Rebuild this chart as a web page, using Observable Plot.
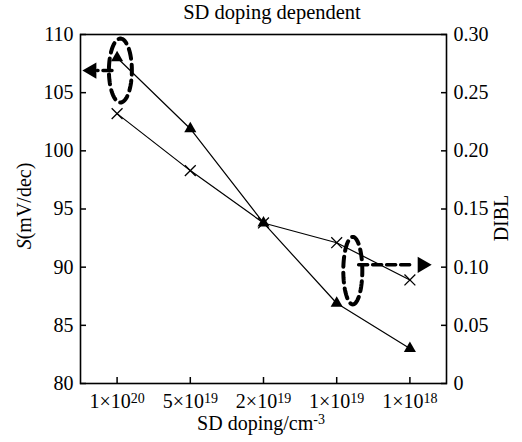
<!DOCTYPE html>
<html>
<head>
<meta charset="utf-8">
<script src="https://cdn.jsdelivr.net/npm/d3@7"></script>
<script src="https://cdn.jsdelivr.net/npm/@observablehq/plot@0.6"></script>
<style>
  body { margin: 0; background: #fff; }
  #chart svg { display: block; }
</style>
</head>
<body>
<div id="chart"></div>
<script>
// Source/drain doping levels (categories, left to right)
const dopings = ["1×10^20", "5×10^19", "2×10^19", "1×10^19", "1×10^18"];
// Subthreshold swing S (mV/dec), triangles, left axis
const sValues = [108.0, 101.9, 93.8, 86.9, 83.0];
// DIBL, crosses, right axis
const diblValues = [0.232, 0.183, 0.138, 0.121, 0.089];
// Axis ticks
const sTicks = [80, 85, 90, 95, 100, 105, 110];
const diblTicks = [0, 0.05, 0.10, 0.15, 0.20, 0.25, 0.30];

// Right axis shares the frame: DIBL 0..0.30 spans S 80..110
const sFromDibl = d => 80 + d * 100;

const sRows = sValues.map((v, i) => ({x: i, y: v}));
const diblRows = diblValues.map((v, i) => ({x: i, y: sFromDibl(v)}));

// Dashed callouts: ellipse around a series plus an arrow to its axis
const sCallout = {cx: 0.045, cy: 106.9, rx: 0.157, ry: 2.75, from: -0.07, to: -0.27, head: -0.347, y: 106.9, dir: -90};
const diblCallout = {cx: 3.22, cy: 89.7, rx: 0.13, ry: 2.9, from: 3.30, to: 4.05, head: 4.17, y: sFromDibl(0.102), dir: 90};

function ellipsePath(c, n = 64) {
  return d3.range(n + 1).map(k => {
    const t = 2 * Math.PI * k / n - Math.PI / 2;
    return {x: c.cx + c.rx * Math.cos(t), y: c.cy + c.ry * Math.sin(t)};
  });
}

const font = '"Liberation Serif", "Times New Roman", serif';

const plot = Plot.plot({
  width: 522,
  height: 442,
  marginTop: 34,
  marginBottom: 59,
  marginLeft: 80,
  marginRight: 76,
  style: {fontFamily: font, fontSize: "20px", color: "black", background: "white"},
  x: {type: "linear", domain: [-0.5, 4.5]},
  y: {domain: [80, 110]},
  marks: [
    Plot.axisX({ticks: dopings.map((d, i) => i), tickFormat: i => dopings[i], tickSize: -6, tickPadding: 16, strokeWidth: 1.5, label: null}),
    Plot.axisY({anchor: "left", ticks: sTicks, tickFormat: d => String(d), tickSize: -6, tickPadding: 13, strokeWidth: 1.5, label: null}),
    Plot.axisY({anchor: "right", ticks: diblTicks.map(sFromDibl), tickFormat: (d) => {
      const v = (d - 80) / 100;
      return Math.abs(v) < 1e-9 ? "0" : v.toFixed(2);
    }, tickSize: -6, tickPadding: 13, strokeWidth: 1.5, label: null}),
    Plot.frame({stroke: "black", strokeWidth: 1.6}),

    // DIBL series
    Plot.line(diblRows, {x: "x", y: "y", stroke: "black", strokeWidth: 1.2}),
    Plot.dot(diblRows, {x: "x", y: "y", symbol: "times", r: 5, stroke: "black", strokeWidth: 1.3}),

    // S series
    Plot.line(sRows, {x: "x", y: "y", stroke: "black", strokeWidth: 1.2}),
    Plot.dot(sRows, {x: "x", y: "y", symbol: "triangle", r: 4.5, fill: "black", stroke: "none"}),

    // callouts
    ...[sCallout, diblCallout].flatMap(c => [
      Plot.line(ellipsePath(c), {x: "x", y: "y", stroke: "black", strokeWidth: 4, strokeDasharray: "10,6"}),
      Plot.line([{x: c.from, y: c.y}, {x: c.to, y: c.y}], {x: "x", y: "y", stroke: "black", strokeWidth: 3.5, strokeDasharray: "9,5"}),
      Plot.dot([{x: c.head, y: c.y}], {x: "x", y: "y", symbol: "triangle", r: 6, fill: "black", stroke: "none", rotate: c.dir})
    ])
  ]
});

const svg = d3.select(plot);

// superscripts written as base^exp
function setSup(sel, str, supSize, shift) {
  const [base, exp] = str.split("^");
  sel.text(null);
  sel.append("tspan").text(base);
  if (exp !== undefined) {
    sel.append("tspan").attr("font-size", supSize).attr("dy", -shift).text(exp);
  }
}

svg.selectAll('g[aria-label="x-axis tick label"] text').each(function() {
  setSup(d3.select(this), d3.select(this).text(), 14, 5);
});

// title and axis titles
svg.append("text")
  .attr("x", 272).attr("y", 19)
  .attr("text-anchor", "middle")
  .attr("font-family", font).attr("font-size", 20.5)
  .text("SD doping dependent");

const xLabel = svg.append("text")
  .attr("x", 261).attr("y", 430)
  .attr("text-anchor", "middle")
  .attr("font-family", font).attr("font-size", 20);
setSup(xLabel, "SD doping/cm^-3", 14, 6);

const yLabel = svg.append("text")
  .attr("transform", "translate(31,206) rotate(-90)")
  .attr("text-anchor", "middle")
  .attr("font-family", font).attr("font-size", 20);
yLabel.append("tspan").attr("font-style", "italic").text("S");
yLabel.append("tspan").text("(mV/dec)");

svg.append("text")
  .attr("transform", "translate(508,218) rotate(-90)")
  .attr("text-anchor", "middle")
  .attr("font-family", font).attr("font-size", 20)
  .text("DIBL");

document.getElementById("chart").append(plot);
</script>
</body>
</html>
